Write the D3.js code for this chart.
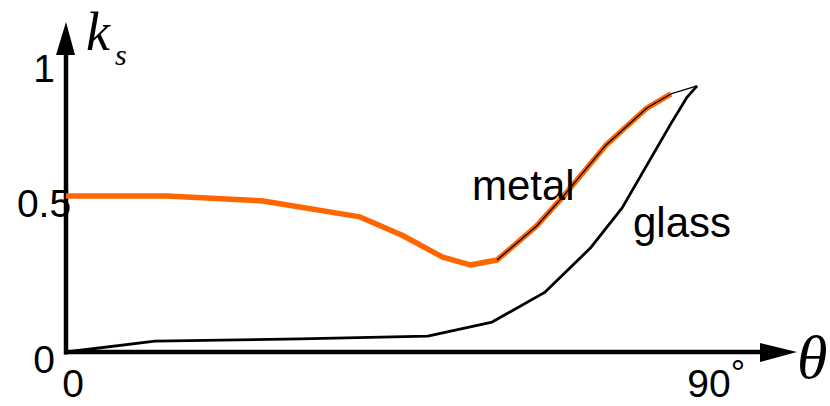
<!DOCTYPE html>
<html>
<head>
<meta charset="utf-8">
<script src="https://cdn.jsdelivr.net/npm/d3@7"></script>
<style>
  html, body { margin: 0; padding: 0; background: #fff; }
  svg { display: block; }
</style>
</head>
<body>
<svg id="chart" width="830" height="406"></svg>
<script>
// Specular coefficient k_s against incidence angle theta (degrees)
const metalAngles = [0, 14.3, 27.9, 41.6, 47.5, 53.3, 57.2, 61.0, 66.6, 70.3, 76.4, 82.2, 85.6, 89.3];
const metalValues = [0.5, 0.5, 0.484, 0.433, 0.375, 0.304, 0.279, 0.295, 0.404, 0.497, 0.663, 0.782, 0.827, 0.853];

const glassAngles = [0, 12.6, 33.1, 51.2, 60.3, 67.8, 74.2, 78.7, 85.5, 87.9, 89.3];
const glassValues = [0, 0.035, 0.042, 0.051, 0.096, 0.192, 0.333, 0.462, 0.728, 0.817, 0.853];

const yTickValues = [0, 0.5, 1];
const yTickLabels = ["0", "0.5", "1"];
const xTickValues = [0, 90];
const xTickLabels = ["0", "90"];
const xTickUnits = ["", "°"];

const seriesLabels = { metal: "metal", glass: "glass" };

const svg = d3.select("#chart");
const sans = "'Liberation Sans', Arial, sans-serif";
const serif = "'Liberation Serif', 'Times New Roman', serif";

const x = d3.scaleLinear().domain([0, 90]).range([66, 702]);
const y = d3.scaleLinear().domain([0, 1]).range([352, 40]);

const line = d3.line().x(d => x(d[0])).y(d => y(d[1]));

// Axes with arrow heads
const ax = svg.append("g");
ax.append("line")
  .attr("x1", x(0)).attr("y1", y(0) + 2.5)
  .attr("x2", x(0)).attr("y2", 50)
  .attr("stroke", "#000").attr("stroke-width", 4.5);
ax.append("path")
  .attr("d", `M${x(0)},22 L${x(0) - 10},55 L${x(0) + 9},55 Z`)
  .attr("fill", "#000");
ax.append("line")
  .attr("x1", x(0) - 2).attr("y1", y(0))
  .attr("x2", 765).attr("y2", y(0))
  .attr("stroke", "#000").attr("stroke-width", 4.5);
ax.append("path")
  .attr("d", `M797,${y(0)} L760,${y(0) - 9} L760,${y(0) + 10} Z`)
  .attr("fill", "#000");

// Axis titles
const ks = svg.append("text")
  .attr("x", 86).attr("y", 50)
  .attr("font-family", serif).attr("font-style", "italic")
  .attr("font-size", 54).attr("fill", "#000");
ks.append("tspan").text("k");
ks.append("tspan").attr("font-size", 30).attr("dx", 5).attr("dy", 15).text("s");

svg.append("text")
  .attr("x", 797).attr("y", 378)
  .attr("font-family", serif).attr("font-style", "italic")
  .attr("font-size", 62).attr("fill", "#000")
  .text("θ");

// Tick labels (the top label sits lower to clear the arrow head)
svg.append("g").selectAll("text")
  .data(yTickValues)
  .join("text")
  .attr("x", 44).attr("text-anchor", "middle")
  .attr("y", d => y(d) + 21 + (d === 1 ? 21 : 0))
  .attr("font-family", sans).attr("font-size", 39).attr("fill", "#000")
  .text((d, i) => yTickLabels[i]);

// x tick labels: number centred under its position, unit as a raised mark after it
const xt = svg.append("g").selectAll("text")
  .data(xTickValues)
  .join("text")
  .attr("x", d => x(d) + 7).attr("y", 397)
  .attr("font-family", sans).attr("font-size", 39).attr("fill", "#000");
xt.append("tspan").text((d, i) => xTickLabels[i]);
xt.filter((d, i) => xTickUnits[i] !== "")
  .append("tspan")
  .attr("font-size", 36).attr("dx", 0).attr("dy", -11)
  .text((d, i) => "°");
xt.each(function (d, i) {
  const w = this.getSubStringLength(0, xTickLabels[i].length);
  d3.select(this).attr("x", x(d) + 7 - w / 2);
});

// Glass curve
svg.append("path")
  .datum(glassAngles.map((a, i) => [a, glassValues[i]]))
  .attr("d", line)
  .attr("fill", "none").attr("stroke", "#000")
  .attr("stroke-width", 2.8).attr("stroke-linejoin", "round");

// Metal curve: orange stroke with a fine black trace along the rising part
const metal = metalAngles.map((a, i) => [a, metalValues[i]]);
const orangeEnd = metalAngles.indexOf(85.6);
const riseStart = metalAngles.indexOf(61.0);
svg.append("path")
  .datum(metal.slice(0, orangeEnd + 1))
  .attr("d", line)
  .attr("fill", "none").attr("stroke", "#ff6600")
  .attr("stroke-width", 5.5).attr("stroke-linejoin", "round");
svg.append("path")
  .datum(metal.slice(riseStart))
  .attr("d", line)
  .attr("fill", "none").attr("stroke", "#000")
  .attr("stroke-width", 1.3).attr("stroke-linejoin", "round");

// Series labels
svg.append("text")
  .attr("x", 472).attr("y", 200)
  .attr("font-family", sans).attr("font-size", 42).attr("fill", "#000")
  .text(seriesLabels.metal);
svg.append("text")
  .attr("x", 633).attr("y", 237)
  .attr("font-family", sans).attr("font-size", 42).attr("fill", "#000")
  .text(seriesLabels.glass);
</script>
</body>
</html>
